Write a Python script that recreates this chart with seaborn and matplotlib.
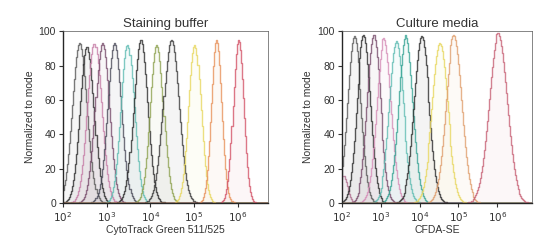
import numpy as np
import pandas as pd
import matplotlib.pyplot as plt
import seaborn as sns

# Peak parameters (log10 position, spread in decades, height)
stain_centers = [2.38, 2.55, 2.72, 2.90, 3.18, 3.48, 3.78, 4.15, 4.48, 5.02, 5.52, 6.02]
stain_widths = [0.17, 0.16, 0.16, 0.16, 0.16, 0.15, 0.16, 0.15, 0.18, 0.14, 0.12, 0.12]
stain_heights = [93, 91, 93, 93, 93, 92, 95, 92, 95, 92, 95, 95]
stain_colors = ['#5a5a5a', '#2e2e2e', '#c77fa8', '#7a4f6e', '#4d4d5c', '#62bdb4',
                '#2e2e2e', '#8fa352', '#3d3d3d', '#e8d862', '#e8935c', '#d4566a']

media_centers = [2.05, 2.32, 2.56, 2.82, 3.08, 3.40, 3.64, 4.05, 4.52, 4.88, 6.02]
media_widths = [0.10, 0.17, 0.17, 0.17, 0.18, 0.18, 0.18, 0.19, 0.20, 0.20, 0.23]
media_heights = [16, 97, 98, 98, 96, 94, 98, 97, 93, 98, 99]
media_colors = ['#b07090', '#5a5a5a', '#2e2e2e', '#7a4f6e', '#d68fb8', '#62bdb4',
                '#3aa596', '#2e2e2e', '#e8d862', '#e0a070', '#c86478']

ticks = [2, 3, 4, 5, 6]
yticks = [0, 20, 40, 60, 80, 100]

sns.set_style('ticks')
plt.rcParams['font.family'] = ['Liberation Sans', 'DejaVu Sans']
plt.rcParams['text.color'] = '#333333'
plt.rcParams['axes.labelcolor'] = '#333333'
plt.rcParams['xtick.color'] = '#333333'
plt.rcParams['ytick.color'] = '#333333'

fig = plt.figure(figsize=(5.34, 2.45), dpi=100)
ax1 = fig.add_axes([0.118, 0.171, 0.384, 0.702])
ax2 = fig.add_axes([0.640, 0.171, 0.357, 0.702])


def draw_panel(ax, centers, widths, heights, colors, xmax, title, xlabel):
    grid = np.linspace(2, xmax, 200)
    for c, w, h, col in zip(centers, widths, heights, colors):
        y = h * np.exp(-0.5 * ((grid - c) / w) ** 2)
        df = pd.DataFrame({'x': 10 ** grid, 'y': y})
        ax.fill_between(df['x'], 0, df['y'], color=col, alpha=0.05, lw=0, step='mid')
        sns.lineplot(data=df, x='x', y='y', ax=ax, color=col, lw=1.0,
                     drawstyle='steps-mid', alpha=0.8)
    ax.set_xscale('log')
    ax.set_xlim(10 ** 2, 10 ** xmax)
    ax.set_ylim(0, 100)
    ax.set_xticks([10 ** t for t in ticks])
    ax.set_xticklabels([f'$10^{t}$' for t in ticks])
    ax.xaxis.set_minor_locator(plt.NullLocator())
    ax.set_yticks(yticks)
    ax.tick_params(labelsize=7.5, length=3, width=0.8, pad=2)
    ax.set_title(title, fontsize=9.5, pad=3)
    ax.set_xlabel(xlabel, fontsize=7.5, labelpad=1)
    ax.set_ylabel('Normalized to mode', fontsize=7.5, labelpad=3)
    for side in ['top', 'right']:
        ax.spines[side].set_linewidth(0.5)
        ax.spines[side].set_color('#555555')
    for side in ['left', 'bottom']:
        ax.spines[side].set_linewidth(1.0)


draw_panel(ax1, stain_centers, stain_widths, stain_heights, stain_colors, 6.7,
           'Staining buffer', 'CytoTrack Green 511/525')
draw_panel(ax2, media_centers, media_widths, media_heights, media_colors, 6.9,
           'Culture media', 'CFDA-SE')

fig.savefig('out.png', dpi=100)
